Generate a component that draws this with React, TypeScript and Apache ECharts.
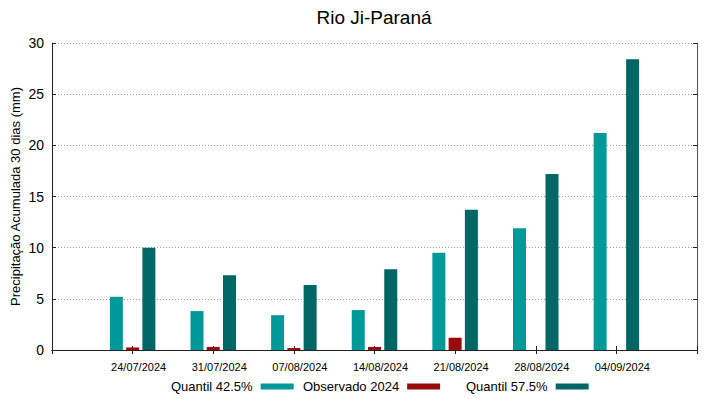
import React, { useEffect, useRef } from "react";
import * as echarts from "echarts";

const categories = ["", "24/07/2024", "31/07/2024", "07/08/2024", "14/08/2024", "21/08/2024", "28/08/2024", "04/09/2024", ""];
const quantil425 = [null, 5.2, 3.8, 3.4, 3.9, 9.5, 11.9, 21.2, null];
const observado2024 = [null, 0.25, 0.3, 0.2, 0.3, 1.2, null, null, null];
const quantil575 = [null, 10.0, 7.3, 6.35, 7.9, 13.7, 17.2, 28.4, null];
const seriesNames = ["Quantil 42.5%", "Observado 2024", "Quantil 57.5%"];
const colors = ["#009999", "#990a0a", "#006666"];

const FONT = "Liberation Sans, Arial, sans-serif";

export default function App() {
  const ref = useRef<HTMLDivElement>(null);
  useEffect(() => {
    if (!ref.current) return;
    const chart = echarts.init(ref.current, null, { renderer: "svg" });
    const legendPos = [166, 298, 461];
    chart.setOption({
      animation: false,
      textStyle: { fontFamily: FONT },
      title: {
        text: "Rio Ji-Paraná",
        left: 369,
        textAlign: "center",
        top: 3,
        textStyle: { fontFamily: FONT, fontSize: 19, fontWeight: "normal", color: "#000" },
      },
      legend: seriesNames.map((n, i) => ({
        data: [n],
        left: legendPos[i],
        top: 375,
        align: "right",
        icon: "rect",
        itemWidth: 33,
        itemHeight: 6,
        selectedMode: false,
        textStyle: { fontFamily: FONT, fontSize: 13, color: "#000", padding: [0, 3, 0, 0] },
      })),
      grid: { left: 52, right: 22, top: 43, bottom: 49, containLabel: false, outerBoundsMode: "none" },
      xAxis: [
        {
          type: "category",
          data: categories,
          boundaryGap: false,
          axisLine: { lineStyle: { color: "#222", width: 1 } },
          axisTick: { inside: true, length: 4, interval: 0, lineStyle: { color: "#222" } },
          axisLabel: {
            interval: 0,
            fontFamily: FONT,
            fontSize: 11,
            color: "#000",
            margin: 11,
            padding: [0, 0, 0, 12],
          },
          splitLine: { show: false },
        },
        {
          type: "category",
          data: categories,
          boundaryGap: false,
          position: "top",
          axisLine: { lineStyle: { color: "#222", width: 1 } },
          axisTick: { inside: true, length: 4, interval: 0, lineStyle: { color: "#222" } },
          axisLabel: { show: false },
          splitLine: { show: false },
        },
      ],
      yAxis: [
        {
          type: "value",
          min: 0,
          max: 30,
          interval: 5,
          name: "Precipitação Acumulada 30 dias (mm)",
          nameLocation: "middle",
          nameGap: 30,
          nameMoveOverlap: false,
          nameTextStyle: { fontFamily: FONT, fontSize: 13, color: "#000" },
          axisLine: { show: true, lineStyle: { color: "#222", width: 1 } },
          axisTick: { show: true, inside: true, length: 4, lineStyle: { color: "#222" } },
          axisLabel: { fontFamily: FONT, fontSize: 14, color: "#000", margin: 8 },
          splitLine: { show: true, lineStyle: { color: "#999", type: [1, 2], width: 1 } },
        },
        {
          type: "value",
          min: 0,
          max: 30,
          interval: 5,
          position: "right",
          axisLine: { show: true, lineStyle: { color: "#555", width: 1 } },
          axisTick: { show: true, inside: true, length: 4, lineStyle: { color: "#222" } },
          axisLabel: { show: false },
          splitLine: { show: false },
        },
      ],
      series: [
        { name: seriesNames[0], type: "bar", data: quantil425, barWidth: 13, barGap: "25%", itemStyle: { color: colors[0] } },
        { name: seriesNames[1], type: "bar", data: observado2024, barWidth: 13, barGap: "25%", itemStyle: { color: colors[1] } },
        { name: seriesNames[2], type: "bar", data: quantil575, barWidth: 13, barGap: "25%", itemStyle: { color: colors[2] } },
      ],
    });
    return () => chart.dispose();
  }, []);
  return <div ref={ref} style={{ width: 719, height: 399, position: "absolute", left: 0, top: 0 }} />;
}
